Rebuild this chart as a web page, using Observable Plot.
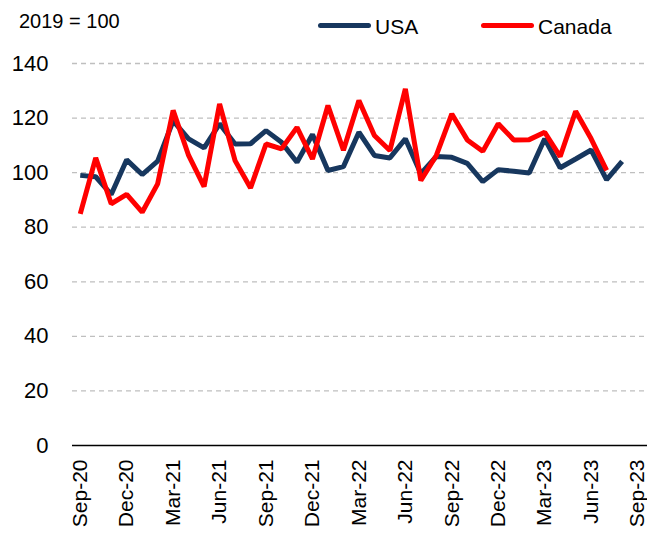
<!DOCTYPE html>
<html><head><meta charset="utf-8">
<script src="https://cdn.jsdelivr.net/npm/d3@7"></script>
<script src="https://cdn.jsdelivr.net/npm/@observablehq/plot@0.6"></script>
<style>
body{margin:0;background:#fff;font-family:"Liberation Sans",Arial,sans-serif;}
#head{position:relative;width:647px;height:50px;}
#head span{position:absolute;white-space:nowrap;color:#000;line-height:1;}
.sw{position:absolute;height:5px;border-radius:3px;}
</style></head>
<body>
<div id="head"></div>
<div id="chart"></div>
<script>
const months = ["Sep-20","Oct-20","Nov-20","Dec-20","Jan-21","Feb-21","Mar-21","Apr-21","May-21","Jun-21","Jul-21","Aug-21","Sep-21","Oct-21","Nov-21","Dec-21","Jan-22","Feb-22","Mar-22","Apr-22","May-22","Jun-22","Jul-22","Aug-22","Sep-22","Oct-22","Nov-22","Dec-22","Jan-23","Feb-23","Mar-23","Apr-23","May-23","Jun-23","Jul-23","Aug-23"];
const usa = [99,98.5,92,104.7,99.3,104.2,119,112.4,109.1,117.9,110.5,110.6,115.4,111.1,103.8,114,100.8,102.2,114.8,106.3,105.4,112.4,99.6,105.9,105.6,103.4,96.7,101.1,100.5,99.9,112.4,101.8,105,108.3,97.4,104.1];
const canada = [84.9,105.4,88.6,92,85.5,95.9,122.8,106.3,94.9,125.2,104.4,94.4,110.5,108.7,116.6,105,124.6,108.2,126.4,113.6,108.1,130.7,97.1,106.3,121.5,112,107.8,117.9,112,112.1,114.8,105.9,122.5,112.4,100.8];
const tickLabels = ["Sep-20","Dec-20","Mar-21","Jun-21","Sep-21","Dec-21","Mar-22","Jun-22","Sep-22","Dec-22","Mar-23","Jun-23","Sep-23"];
const yTicks = [0,20,40,60,80,100,120,140];
const seriesNames = ["USA","Canada"];
const colors = ["#17375e","#ff0000"];
const unitNote = "2019 = 100";

const rows = [];
months.forEach((m,i)=>{ if(usa[i]!=null) rows.push({i, series:"USA", v:usa[i]}); });
months.forEach((m,i)=>{ if(canada[i]!=null) rows.push({i, series:"Canada", v:canada[i]}); });

const head = document.getElementById("head");
head.innerHTML = `<span style="left:19px;top:11px;font-size:20px">${unitNote}</span>
<div class="sw" style="left:318px;top:23px;width:53px;background:${colors[0]}"></div>
<span style="left:375px;top:16px;font-size:21px">${seriesNames[0]}</span>
<div class="sw" style="left:481px;top:23px;width:53px;background:${colors[1]}"></div>
<span style="left:538px;top:16px;font-size:21px">${seriesNames[1]}</span>`;

const chart = Plot.plot({
  width: 647, height: 489,
  marginLeft: 72, marginRight: 0, marginTop: 13, marginBottom: 94,
  style: {fontFamily: "Liberation Sans, Arial, sans-serif", fontSize: "22px", color: "#000", background: "#fff"},
  x: {type: "linear", domain: [-0.5, 36.64]},
  y: {domain: [0, 140]},
  color: {domain: seriesNames, range: colors},
  marks: [
    Plot.ruleY(yTicks.filter(d=>d>0), {stroke: "#bfbfbf", strokeWidth: 1.3, strokeDasharray: "5,4"}),
    Plot.ruleY([0], {stroke: "#000", strokeWidth: 1.3}),
    Plot.axisY({ticks: yTicks, tickSize: 0, tickPadding: 24, label: null, fontSize: 22}),
    Plot.axisX({ticks: tickLabels.map((d,k)=>k*3), tickFormat: (d)=>tickLabels[d/3], tickSize: 0, tickPadding: 14, tickRotate: -90, label: null, fontSize: 21}),
    Plot.line(rows, {x: "i", y: "v", z: "series", stroke: "series", strokeWidth: 5, strokeLinejoin: "miter", strokeLinecap: "butt"})
  ]
});
document.getElementById("chart").appendChild(chart);
</script>
</body></html>
